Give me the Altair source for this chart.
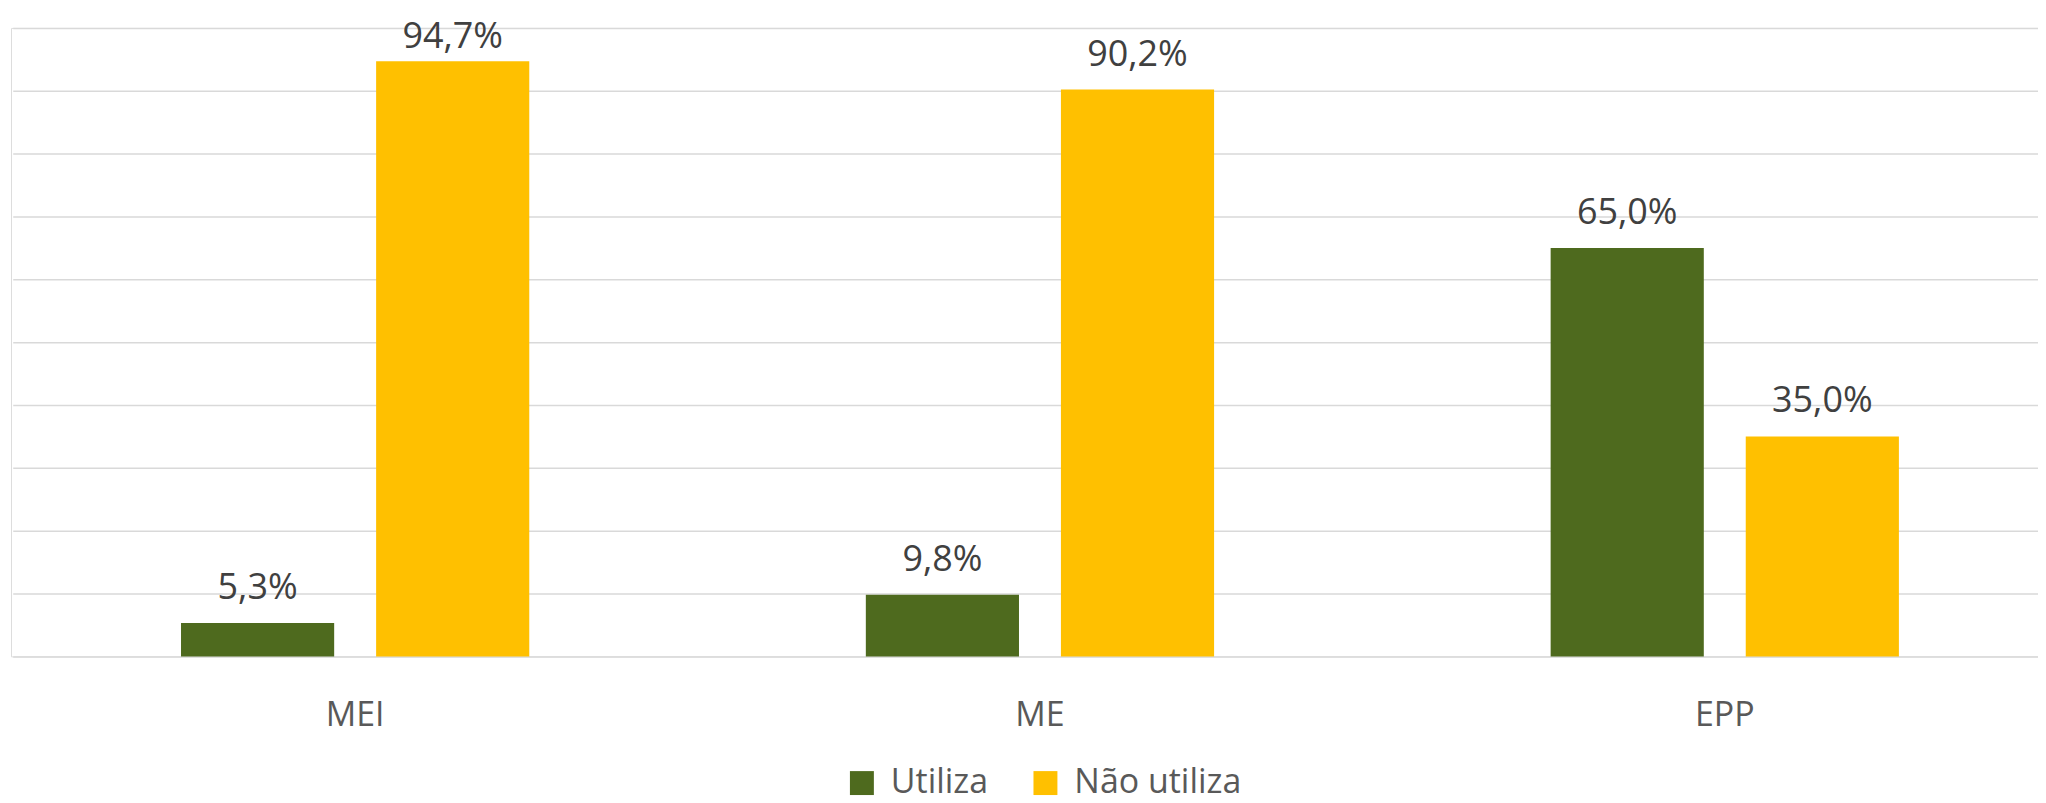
import altair as alt
import pandas as pd

categories = ["MEI", "ME", "EPP"]
series_names = ["Utiliza", "Não utiliza"]
utiliza = [5.3, 9.8, 65.0]
nao_utiliza = [94.7, 90.2, 35.0]
colors = ["#4E6A1E", "#FFC000"]

rows = []
for i, c in enumerate(categories):
    rows.append({"cat": c, "serie": series_names[0], "valor": utiliza[i]})
    rows.append({"cat": c, "serie": series_names[1], "valor": nao_utiliza[i]})
df = pd.DataFrame(rows)

FONT = "Open Sans"

x = alt.X("cat:N", sort=categories, title=None,
          scale=alt.Scale(range=[1.75, 2061.25], paddingInner=0, paddingOuter=0),
          axis=alt.Axis(labelAngle=0, domain=False, ticks=False, labelPadding=42,
                        labelFontSize=34, labelColor="#595959", labelFont=FONT))
xo = alt.XOffset("serie:N", sort=series_names,
                 scale=alt.Scale(paddingInner=0.215, paddingOuter=0.8625))
yscale = alt.Scale(domain=[0, 100], nice=False)
y = alt.Y("valor:Q", title=None, scale=yscale,
          axis=alt.Axis(values=list(range(0, 101, 10)), labels=False, ticks=False,
                        domain=False, grid=True, gridColor="#D9D9D9", gridWidth=1.5))

bars = alt.Chart(df).mark_bar().encode(
    x=x, xOffset=xo, y=y,
    color=alt.Color("serie:N", sort=series_names,
                    scale=alt.Scale(domain=series_names, range=colors),
                    legend=alt.Legend(title=None, orient="none", legendX=836, legendY=740,
                                      direction="horizontal", symbolType="square",
                                      symbolSize=576, symbolStrokeWidth=0,
                                      labelFontSize=34, labelColor="#595959", labelFont=FONT,
                                      labelLimit=500, labelOffset=12, columnPadding=40,
                                      padding=0))
)

# Labels sit above the bars, kept inside the plot area (as the original software does)
labels = alt.Chart(df).mark_text(font=FONT, fontSize=36, color="#404040",
                                 baseline="alphabetic", dy=-24).transform_calculate(
    lbl="replace(format(datum.valor, '.1f'), '.', ',') + '%'",
    ly="min(datum.valor, 93.0)"
).encode(x=x, xOffset=xo, y=alt.Y("ly:Q", scale=yscale), text="lbl:N")

chart = (bars + labels).properties(
    width=2032, height=630,
    autosize=alt.AutoSizeParams(type="none"),
    padding={"left": 3, "top": 19, "right": 0, "bottom": 145},
).configure_view(stroke=None).configure(background="white")

chart.save("out.html", embed_options={"renderer": "svg", "actions": False})
